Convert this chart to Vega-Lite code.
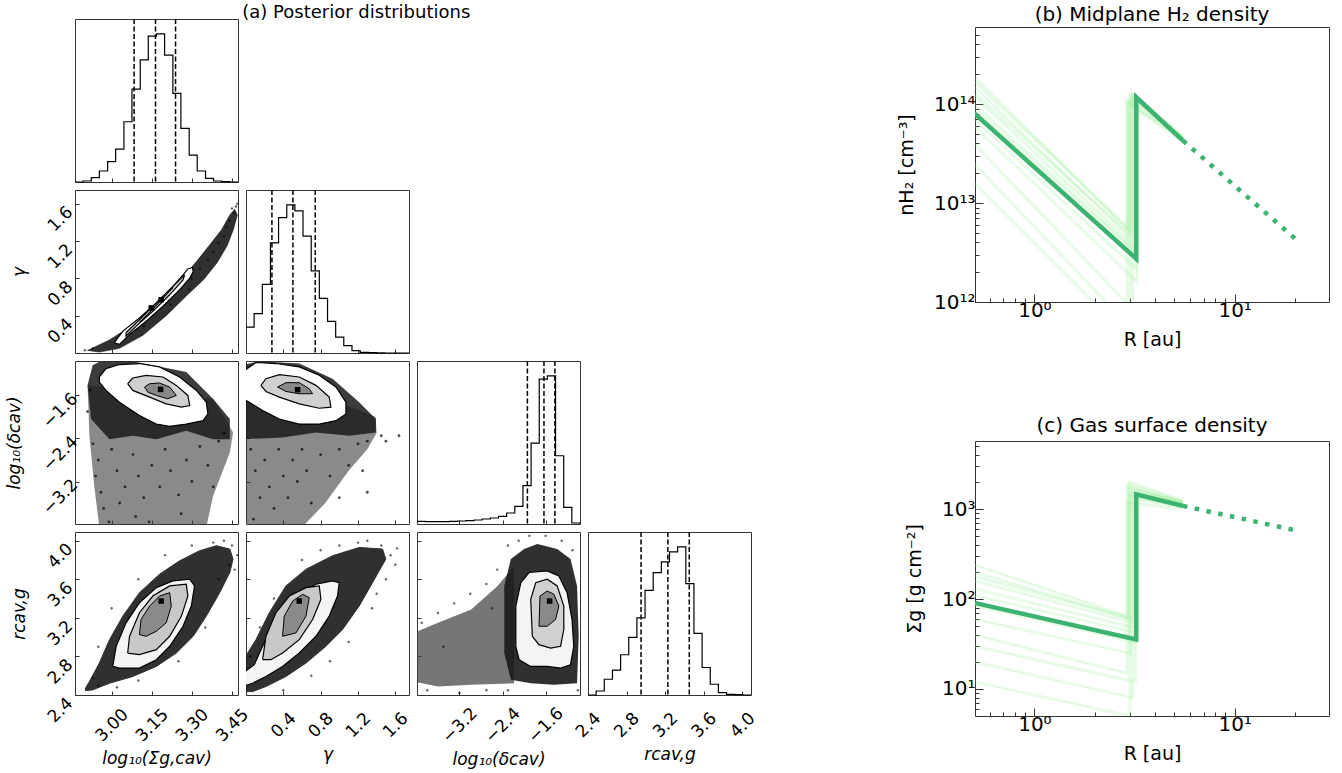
{
"$schema":"https://vega.github.io/schema/vega-lite/v6.json",
"background":"white",
"padding":{"left":4,"top":4,"right":5,"bottom":5},
"config":{"font":"DejaVu Sans","view":{"stroke":"#333","strokeWidth":1},"title":{"font":"DejaVu Sans","fontWeight":"normal","color":"#000"},"axis":{"domain":false,"grid":false,"labelFont":"DejaVu Sans","titleFont":"DejaVu Sans","labelColor":"#000","titleColor":"#000","tickColor":"#333","titleFontWeight":"normal","labelOverlap":false,"labelFlush":false}},
"datasets":{
"hist":[
{"p":1,"x":2.863,"c":0},{"p":1,"x":2.893,"c":3},{"p":1,"x":2.924,"c":13},{"p":1,"x":2.954,"c":33},{"p":1,"x":2.985,"c":61},{"p":1,"x":3.015,"c":99},{"p":1,"x":3.046,"c":181},{"p":1,"x":3.076,"c":279},{"p":1,"x":3.107,"c":367},{"p":1,"x":3.137,"c":438},{"p":1,"x":3.168,"c":445},{"p":1,"x":3.198,"c":381},{"p":1,"x":3.229,"c":266},{"p":1,"x":3.259,"c":161},{"p":1,"x":3.290,"c":81},{"p":1,"x":3.320,"c":33},{"p":1,"x":3.351,"c":11},{"p":1,"x":3.381,"c":3},{"p":1,"x":3.412,"c":1},{"p":1,"x":3.442,"c":0},{"p":1,"x":3.4725,"c":0},
{"p":2,"x":0,"c":77},{"p":2,"x":0.087,"c":117},{"p":2,"x":0.175,"c":204},{"p":2,"x":0.262,"c":327},{"p":2,"x":0.349,"c":402},{"p":2,"x":0.437,"c":440},{"p":2,"x":0.524,"c":422},{"p":2,"x":0.611,"c":347},{"p":2,"x":0.699,"c":244},{"p":2,"x":0.786,"c":162},{"p":2,"x":0.874,"c":94},{"p":2,"x":0.961,"c":47},{"p":2,"x":1.048,"c":22},{"p":2,"x":1.136,"c":7},{"p":2,"x":1.223,"c":2},{"p":2,"x":1.310,"c":1},{"p":2,"x":1.398,"c":0.5},{"p":2,"x":1.485,"c":0},{"p":2,"x":1.572,"c":0},{"p":2,"x":1.660,"c":0},{"p":2,"x":1.747,"c":0},
{"p":3,"x":-3.99,"c":8},{"p":3,"x":-3.8385,"c":7},{"p":3,"x":-3.687,"c":7},{"p":3,"x":-3.5355,"c":7},{"p":3,"x":-3.384,"c":8},{"p":3,"x":-3.2325,"c":9},{"p":3,"x":-3.081,"c":10},{"p":3,"x":-2.9295,"c":12},{"p":3,"x":-2.778,"c":15},{"p":3,"x":-2.6265,"c":18},{"p":3,"x":-2.475,"c":23},{"p":3,"x":-2.3235,"c":33},{"p":3,"x":-2.172,"c":53},{"p":3,"x":-2.0205,"c":115},{"p":3,"x":-1.869,"c":243},{"p":3,"x":-1.7175,"c":435},{"p":3,"x":-1.566,"c":445},{"p":3,"x":-1.4145,"c":205},{"p":3,"x":-1.263,"c":50},{"p":3,"x":-1.1115,"c":3},{"p":3,"x":-0.96,"c":0},
{"p":4,"x":2.4,"c":0},{"p":4,"x":2.4845,"c":12},{"p":4,"x":2.569,"c":47},{"p":4,"x":2.6535,"c":74},{"p":4,"x":2.738,"c":120},{"p":4,"x":2.8225,"c":172},{"p":4,"x":2.907,"c":230},{"p":4,"x":2.9915,"c":312},{"p":4,"x":3.076,"c":365},{"p":4,"x":3.1605,"c":397},{"p":4,"x":3.245,"c":427},{"p":4,"x":3.3295,"c":442},{"p":4,"x":3.414,"c":332},{"p":4,"x":3.4985,"c":184},{"p":4,"x":3.583,"c":82},{"p":4,"x":3.6675,"c":32},{"p":4,"x":3.752,"c":7},{"p":4,"x":3.8365,"c":2},{"p":4,"x":3.921,"c":1},{"p":4,"x":4.0055,"c":0},{"p":4,"x":4.09,"c":0}
],
"q":[
{"p":1,"x":3.084},{"p":1,"x":3.164},{"p":1,"x":3.239},
{"p":2,"x":0.278},{"p":2,"x":0.503},{"p":2,"x":0.742},
{"p":3,"x":-1.938},{"p":3,"x":-1.630},{"p":3,"x":-1.427},
{"p":4,"x":2.95},{"p":4,"x":3.228},{"p":4,"x":3.45}
],
"poly":[
{"p":"21","k":"cl","i":0,"x":2.910,"y":0.028},{"p":"21","k":"cl","i":1,"x":2.992,"y":0.14},{"p":"21","k":"cl","i":2,"x":3.079,"y":0.30},{"p":"21","k":"cl","i":3,"x":3.167,"y":0.50},{"p":"21","k":"cl","i":4,"x":3.254,"y":0.76},{"p":"21","k":"cl","i":5,"x":3.317,"y":0.98},{"p":"21","k":"cl","i":6,"x":3.367,"y":1.16},{"p":"21","k":"cl","i":7,"x":3.411,"y":1.32},{"p":"21","k":"cl","i":8,"x":3.442,"y":1.48},{"p":"21","k":"cl","i":9,"x":3.460,"y":1.54},{"p":"21","k":"cl","i":10,"x":3.470,"y":1.48},{"p":"21","k":"cl","i":11,"x":3.456,"y":1.33},{"p":"21","k":"cl","i":12,"x":3.432,"y":1.15},{"p":"21","k":"cl","i":13,"x":3.395,"y":0.97},{"p":"21","k":"cl","i":14,"x":3.345,"y":0.79},{"p":"21","k":"cl","i":15,"x":3.279,"y":0.61},{"p":"21","k":"cl","i":16,"x":3.204,"y":0.40},{"p":"21","k":"cl","i":17,"x":3.117,"y":0.19},{"p":"21","k":"cl","i":18,"x":3.029,"y":0.05},{"p":"21","k":"cl","i":19,"x":2.954,"y":0.01},{"p":"21","k":"cl","i":20,"x":2.910,"y":0.028},
{"p":"21","k":"c1","i":0,"x":3.010,"y":0.110},{"p":"21","k":"c1","i":1,"x":3.042,"y":0.235},{"p":"21","k":"c1","i":2,"x":3.104,"y":0.376},{"p":"21","k":"c1","i":3,"x":3.167,"y":0.536},{"p":"21","k":"c1","i":4,"x":3.229,"y":0.714},{"p":"21","k":"c1","i":5,"x":3.267,"y":0.837},{"p":"21","k":"c1","i":6,"x":3.285,"y":0.901},{"p":"21","k":"c1","i":7,"x":3.302,"y":0.916},{"p":"21","k":"c1","i":8,"x":3.305,"y":0.873},{"p":"21","k":"c1","i":9,"x":3.292,"y":0.802},{"p":"21","k":"c1","i":10,"x":3.254,"y":0.677},{"p":"21","k":"c1","i":11,"x":3.192,"y":0.501},{"p":"21","k":"c1","i":12,"x":3.129,"y":0.341},{"p":"21","k":"c1","i":13,"x":3.067,"y":0.199},{"p":"21","k":"c1","i":14,"x":3.029,"y":0.092},{"p":"21","k":"c1","i":15,"x":3.010,"y":0.110},
{"p":"21","k":"c2","i":0,"x":3.054,"y":0.217},{"p":"21","k":"c2","i":1,"x":3.117,"y":0.394},{"p":"21","k":"c2","i":2,"x":3.179,"y":0.571},{"p":"21","k":"c2","i":3,"x":3.242,"y":0.749},{"p":"21","k":"c2","i":4,"x":3.273,"y":0.837},{"p":"21","k":"c2","i":5,"x":3.267,"y":0.784},{"p":"21","k":"c2","i":6,"x":3.217,"y":0.624},{"p":"21","k":"c2","i":7,"x":3.154,"y":0.448},{"p":"21","k":"c2","i":8,"x":3.092,"y":0.288},{"p":"21","k":"c2","i":9,"x":3.054,"y":0.182},{"p":"21","k":"c2","i":10,"x":3.054,"y":0.217},
{"p":"21","k":"c3","i":0,"x":3.117,"y":0.36},{"p":"21","k":"c3","i":1,"x":3.179,"y":0.55},{"p":"21","k":"c3","i":2,"x":3.229,"y":0.70},{"p":"21","k":"c3","i":3,"x":3.21,"y":0.64},{"p":"21","k":"c3","i":4,"x":3.154,"y":0.47},{"p":"21","k":"c3","i":5,"x":3.104,"y":0.33},{"p":"21","k":"c3","i":6,"x":3.117,"y":0.36},
{"p":"31","k":"sp","i":0,"x":2.910,"y":-1.413},{"p":"31","k":"sp","i":1,"x":2.917,"y":-2.350},{"p":"31","k":"sp","i":2,"x":2.935,"y":-3.288},{"p":"31","k":"sp","i":3,"x":2.954,"y":-4.05},{"p":"31","k":"sp","i":4,"x":3.354,"y":-4.05},{"p":"31","k":"sp","i":5,"x":3.379,"y":-3.475},{"p":"31","k":"sp","i":6,"x":3.442,"y":-2.663},{"p":"31","k":"sp","i":7,"x":3.454,"y":-2.288},{"p":"31","k":"sp","i":8,"x":3.379,"y":-1.663},{"p":"31","k":"sp","i":9,"x":2.910,"y":-1.413},
{"p":"31","k":"cl","i":0,"x":2.910,"y":-1.413},{"p":"31","k":"cl","i":1,"x":2.929,"y":-1.038},{"p":"31","k":"cl","i":2,"x":2.954,"y":-0.976},{"p":"31","k":"cl","i":3,"x":3.079,"y":-0.963},{"p":"31","k":"cl","i":4,"x":3.279,"y":-1.163},{"p":"31","k":"cl","i":5,"x":3.379,"y":-1.663},{"p":"31","k":"cl","i":6,"x":3.442,"y":-2.038},{"p":"31","k":"cl","i":7,"x":3.442,"y":-2.413},{"p":"31","k":"cl","i":8,"x":3.379,"y":-2.413},{"p":"31","k":"cl","i":9,"x":3.279,"y":-2.256},{"p":"31","k":"cl","i":10,"x":3.167,"y":-2.413},{"p":"31","k":"cl","i":11,"x":3.079,"y":-2.350},{"p":"31","k":"cl","i":12,"x":2.992,"y":-2.413},{"p":"31","k":"cl","i":13,"x":2.923,"y":-2.038},{"p":"31","k":"cl","i":14,"x":2.910,"y":-1.413},
{"p":"31","k":"c1","i":0,"x":2.954,"y":-1.257},{"p":"31","k":"c1","i":1,"x":2.979,"y":-1.101},{"p":"31","k":"c1","i":2,"x":3.029,"y":-1.026},{"p":"31","k":"c1","i":3,"x":3.104,"y":-1.007},{"p":"31","k":"c1","i":4,"x":3.179,"y":-1.070},{"p":"31","k":"c1","i":5,"x":3.254,"y":-1.257},{"p":"31","k":"c1","i":6,"x":3.317,"y":-1.507},{"p":"31","k":"c1","i":7,"x":3.354,"y":-1.725},{"p":"31","k":"c1","i":8,"x":3.360,"y":-1.944},{"p":"31","k":"c1","i":9,"x":3.342,"y":-2.069},{"p":"31","k":"c1","i":10,"x":3.279,"y":-2.132},{"p":"31","k":"c1","i":11,"x":3.217,"y":-2.175},{"p":"31","k":"c1","i":12,"x":3.167,"y":-2.132},{"p":"31","k":"c1","i":13,"x":3.104,"y":-1.975},{"p":"31","k":"c1","i":14,"x":3.029,"y":-1.725},{"p":"31","k":"c1","i":15,"x":2.979,"y":-1.507},{"p":"31","k":"c1","i":16,"x":2.954,"y":-1.351},{"p":"31","k":"c1","i":17,"x":2.954,"y":-1.257},
{"p":"31","k":"c2","i":0,"x":3.060,"y":-1.382},{"p":"31","k":"c2","i":1,"x":3.079,"y":-1.276},{"p":"31","k":"c2","i":2,"x":3.129,"y":-1.226},{"p":"31","k":"c2","i":3,"x":3.192,"y":-1.257},{"p":"31","k":"c2","i":4,"x":3.242,"y":-1.413},{"p":"31","k":"c2","i":5,"x":3.285,"y":-1.600},{"p":"31","k":"c2","i":6,"x":3.292,"y":-1.788},{"p":"31","k":"c2","i":7,"x":3.261,"y":-1.819},{"p":"31","k":"c2","i":8,"x":3.204,"y":-1.757},{"p":"31","k":"c2","i":9,"x":3.142,"y":-1.632},{"p":"31","k":"c2","i":10,"x":3.079,"y":-1.507},{"p":"31","k":"c2","i":11,"x":3.060,"y":-1.382},
{"p":"31","k":"c3","i":0,"x":3.123,"y":-1.444},{"p":"31","k":"c3","i":1,"x":3.142,"y":-1.382},{"p":"31","k":"c3","i":2,"x":3.179,"y":-1.369},{"p":"31","k":"c3","i":3,"x":3.217,"y":-1.444},{"p":"31","k":"c3","i":4,"x":3.242,"y":-1.600},{"p":"31","k":"c3","i":5,"x":3.210,"y":-1.663},{"p":"31","k":"c3","i":6,"x":3.167,"y":-1.600},{"p":"31","k":"c3","i":7,"x":3.135,"y":-1.538},{"p":"31","k":"c3","i":8,"x":3.123,"y":-1.444},
{"p":"32","k":"sp","i":0,"x":-0.05,"y":-1.0},{"p":"32","k":"sp","i":1,"x":-0.05,"y":-4.05},{"p":"32","k":"sp","i":2,"x":0.60,"y":-4.05},{"p":"32","k":"sp","i":3,"x":0.85,"y":-3.6},{"p":"32","k":"sp","i":4,"x":1.10,"y":-3.0},{"p":"32","k":"sp","i":5,"x":1.30,"y":-2.6},{"p":"32","k":"sp","i":6,"x":1.40,"y":-2.3},{"p":"32","k":"sp","i":7,"x":1.39,"y":-2.0},{"p":"32","k":"sp","i":8,"x":-0.05,"y":-1.0},
{"p":"32","k":"cl","i":0,"x":-0.05,"y":-1.038},{"p":"32","k":"cl","i":1,"x":0.142,"y":-0.963},{"p":"32","k":"cl","i":2,"x":0.571,"y":-1.007},{"p":"32","k":"cl","i":3,"x":0.928,"y":-1.288},{"p":"32","k":"cl","i":4,"x":1.213,"y":-1.725},{"p":"32","k":"cl","i":5,"x":1.392,"y":-2.038},{"p":"32","k":"cl","i":6,"x":1.392,"y":-2.288},{"p":"32","k":"cl","i":7,"x":1.107,"y":-2.350},{"p":"32","k":"cl","i":8,"x":0.750,"y":-2.288},{"p":"32","k":"cl","i":9,"x":0.392,"y":-2.381},{"p":"32","k":"cl","i":10,"x":-0.05,"y":-2.413},{"p":"32","k":"cl","i":11,"x":-0.05,"y":-1.038},
{"p":"32","k":"c1","i":0,"x":-0.036,"y":-1.163},{"p":"32","k":"c1","i":1,"x":0.107,"y":-0.988},{"p":"32","k":"c1","i":2,"x":0.321,"y":-1.007},{"p":"32","k":"c1","i":3,"x":0.571,"y":-1.070},{"p":"32","k":"c1","i":4,"x":0.785,"y":-1.226},{"p":"32","k":"c1","i":5,"x":0.964,"y":-1.444},{"p":"32","k":"c1","i":6,"x":1.071,"y":-1.725},{"p":"32","k":"c1","i":7,"x":1.071,"y":-1.944},{"p":"32","k":"c1","i":8,"x":0.964,"y":-2.069},{"p":"32","k":"c1","i":9,"x":0.785,"y":-2.132},{"p":"32","k":"c1","i":10,"x":0.571,"y":-2.132},{"p":"32","k":"c1","i":11,"x":0.357,"y":-2.038},{"p":"32","k":"c1","i":12,"x":0.178,"y":-1.882},{"p":"32","k":"c1","i":13,"x":0.035,"y":-1.725},{"p":"32","k":"c1","i":14,"x":-0.036,"y":-1.663},{"p":"32","k":"c1","i":15,"x":-0.036,"y":-1.163},
{"p":"32","k":"c2","i":0,"x":0.160,"y":-1.413},{"p":"32","k":"c2","i":1,"x":0.214,"y":-1.288},{"p":"32","k":"c2","i":2,"x":0.357,"y":-1.213},{"p":"32","k":"c2","i":3,"x":0.571,"y":-1.257},{"p":"32","k":"c2","i":4,"x":0.750,"y":-1.413},{"p":"32","k":"c2","i":5,"x":0.892,"y":-1.632},{"p":"32","k":"c2","i":6,"x":0.910,"y":-1.819},{"p":"32","k":"c2","i":7,"x":0.785,"y":-1.838},{"p":"32","k":"c2","i":8,"x":0.571,"y":-1.757},{"p":"32","k":"c2","i":9,"x":0.357,"y":-1.632},{"p":"32","k":"c2","i":10,"x":0.214,"y":-1.526},{"p":"32","k":"c2","i":11,"x":0.160,"y":-1.413},
{"p":"32","k":"c3","i":0,"x":0.338,"y":-1.444},{"p":"32","k":"c3","i":1,"x":0.428,"y":-1.363},{"p":"32","k":"c3","i":2,"x":0.571,"y":-1.363},{"p":"32","k":"c3","i":3,"x":0.678,"y":-1.476},{"p":"32","k":"c3","i":4,"x":0.714,"y":-1.569},{"p":"32","k":"c3","i":5,"x":0.571,"y":-1.569},{"p":"32","k":"c3","i":6,"x":0.428,"y":-1.526},{"p":"32","k":"c3","i":7,"x":0.338,"y":-1.444},
{"p":"41","k":"cl","i":0,"x":2.902,"y":2.470},{"p":"41","k":"cl","i":1,"x":2.917,"y":2.540},{"p":"41","k":"cl","i":2,"x":2.954,"y":2.731},{"p":"41","k":"cl","i":3,"x":2.992,"y":2.974},{"p":"41","k":"cl","i":4,"x":3.042,"y":3.218},{"p":"41","k":"cl","i":5,"x":3.104,"y":3.461},{"p":"41","k":"cl","i":6,"x":3.179,"y":3.652},{"p":"41","k":"cl","i":7,"x":3.254,"y":3.791},{"p":"41","k":"cl","i":8,"x":3.329,"y":3.896},{"p":"41","k":"cl","i":9,"x":3.392,"y":3.948},{"p":"41","k":"cl","i":10,"x":3.442,"y":3.913},{"p":"41","k":"cl","i":11,"x":3.454,"y":3.809},{"p":"41","k":"cl","i":12,"x":3.442,"y":3.670},{"p":"41","k":"cl","i":13,"x":3.404,"y":3.461},{"p":"41","k":"cl","i":14,"x":3.354,"y":3.218},{"p":"41","k":"cl","i":15,"x":3.305,"y":3.009},{"p":"41","k":"cl","i":16,"x":3.242,"y":2.835},{"p":"41","k":"cl","i":17,"x":3.167,"y":2.696},{"p":"41","k":"cl","i":18,"x":3.079,"y":2.592},{"p":"41","k":"cl","i":19,"x":2.992,"y":2.522},{"p":"41","k":"cl","i":20,"x":2.929,"y":2.453},{"p":"41","k":"cl","i":21,"x":2.902,"y":2.446},{"p":"41","k":"cl","i":22,"x":2.902,"y":2.470},
{"p":"41","k":"c1","i":0,"x":3.004,"y":2.696},{"p":"41","k":"c1","i":1,"x":3.017,"y":2.905},{"p":"41","k":"c1","i":2,"x":3.054,"y":3.148},{"p":"41","k":"c1","i":3,"x":3.104,"y":3.357},{"p":"41","k":"c1","i":4,"x":3.167,"y":3.513},{"p":"41","k":"c1","i":5,"x":3.229,"y":3.583},{"p":"41","k":"c1","i":6,"x":3.292,"y":3.600},{"p":"41","k":"c1","i":7,"x":3.310,"y":3.531},{"p":"41","k":"c1","i":8,"x":3.298,"y":3.322},{"p":"41","k":"c1","i":9,"x":3.267,"y":3.113},{"p":"41","k":"c1","i":10,"x":3.217,"y":2.905},{"p":"41","k":"c1","i":11,"x":3.167,"y":2.766},{"p":"41","k":"c1","i":12,"x":3.104,"y":2.679},{"p":"41","k":"c1","i":13,"x":3.029,"y":2.679},{"p":"41","k":"c1","i":14,"x":3.004,"y":2.696},
{"p":"41","k":"c2","i":0,"x":3.060,"y":2.835},{"p":"41","k":"c2","i":1,"x":3.067,"y":3.009},{"p":"41","k":"c2","i":2,"x":3.104,"y":3.253},{"p":"41","k":"c2","i":3,"x":3.154,"y":3.426},{"p":"41","k":"c2","i":4,"x":3.217,"y":3.531},{"p":"41","k":"c2","i":5,"x":3.279,"y":3.548},{"p":"41","k":"c2","i":6,"x":3.285,"y":3.426},{"p":"41","k":"c2","i":7,"x":3.261,"y":3.218},{"p":"41","k":"c2","i":8,"x":3.217,"y":3.009},{"p":"41","k":"c2","i":9,"x":3.167,"y":2.870},{"p":"41","k":"c2","i":10,"x":3.104,"y":2.818},{"p":"41","k":"c2","i":11,"x":3.060,"y":2.835},
{"p":"41","k":"c3","i":0,"x":3.104,"y":3.026},{"p":"41","k":"c3","i":1,"x":3.110,"y":3.183},{"p":"41","k":"c3","i":2,"x":3.142,"y":3.322},{"p":"41","k":"c3","i":3,"x":3.179,"y":3.426},{"p":"41","k":"c3","i":4,"x":3.217,"y":3.461},{"p":"41","k":"c3","i":5,"x":3.223,"y":3.322},{"p":"41","k":"c3","i":6,"x":3.204,"y":3.148},{"p":"41","k":"c3","i":7,"x":3.167,"y":3.061},{"p":"41","k":"c3","i":8,"x":3.129,"y":3.009},{"p":"41","k":"c3","i":9,"x":3.104,"y":3.026},
{"p":"42","k":"cl","i":0,"x":-0.05,"y":2.435},{"p":"42","k":"cl","i":1,"x":-0.05,"y":2.731},{"p":"42","k":"cl","i":2,"x":0.107,"y":2.974},{"p":"42","k":"cl","i":3,"x":0.250,"y":3.253},{"p":"42","k":"cl","i":4,"x":0.428,"y":3.531},{"p":"42","k":"cl","i":5,"x":0.643,"y":3.704},{"p":"42","k":"cl","i":6,"x":0.928,"y":3.844},{"p":"42","k":"cl","i":7,"x":1.213,"y":3.930},{"p":"42","k":"cl","i":8,"x":1.463,"y":3.913},{"p":"42","k":"cl","i":9,"x":1.499,"y":3.809},{"p":"42","k":"cl","i":10,"x":1.356,"y":3.565},{"p":"42","k":"cl","i":11,"x":1.213,"y":3.322},{"p":"42","k":"cl","i":12,"x":1.035,"y":3.079},{"p":"42","k":"cl","i":13,"x":0.857,"y":2.905},{"p":"42","k":"cl","i":14,"x":0.643,"y":2.731},{"p":"42","k":"cl","i":15,"x":0.428,"y":2.592},{"p":"42","k":"cl","i":16,"x":0.214,"y":2.488},{"p":"42","k":"cl","i":17,"x":0.071,"y":2.435},{"p":"42","k":"cl","i":18,"x":-0.05,"y":2.435},
{"p":"42","k":"c1","i":0,"x":-0.036,"y":2.627},{"p":"42","k":"c1","i":1,"x":0.089,"y":2.714},{"p":"42","k":"c1","i":2,"x":0.178,"y":2.905},{"p":"42","k":"c1","i":3,"x":0.285,"y":3.113},{"p":"42","k":"c1","i":4,"x":0.428,"y":3.322},{"p":"42","k":"c1","i":5,"x":0.571,"y":3.461},{"p":"42","k":"c1","i":6,"x":0.750,"y":3.548},{"p":"42","k":"c1","i":7,"x":0.928,"y":3.583},{"p":"42","k":"c1","i":8,"x":0.999,"y":3.565},{"p":"42","k":"c1","i":9,"x":0.981,"y":3.426},{"p":"42","k":"c1","i":10,"x":0.892,"y":3.218},{"p":"42","k":"c1","i":11,"x":0.750,"y":3.009},{"p":"42","k":"c1","i":12,"x":0.571,"y":2.835},{"p":"42","k":"c1","i":13,"x":0.392,"y":2.696},{"p":"42","k":"c1","i":14,"x":0.214,"y":2.592},{"p":"42","k":"c1","i":15,"x":0.071,"y":2.522},{"p":"42","k":"c1","i":16,"x":-0.036,"y":2.488},{"p":"42","k":"c1","i":17,"x":-0.036,"y":2.627},
{"p":"42","k":"c2","i":0,"x":0.178,"y":2.766},{"p":"42","k":"c2","i":1,"x":0.214,"y":3.009},{"p":"42","k":"c2","i":2,"x":0.321,"y":3.253},{"p":"42","k":"c2","i":3,"x":0.464,"y":3.426},{"p":"42","k":"c2","i":4,"x":0.643,"y":3.513},{"p":"42","k":"c2","i":5,"x":0.785,"y":3.531},{"p":"42","k":"c2","i":6,"x":0.803,"y":3.392},{"p":"42","k":"c2","i":7,"x":0.714,"y":3.183},{"p":"42","k":"c2","i":8,"x":0.571,"y":2.974},{"p":"42","k":"c2","i":9,"x":0.392,"y":2.835},{"p":"42","k":"c2","i":10,"x":0.267,"y":2.766},{"p":"42","k":"c2","i":11,"x":0.178,"y":2.766},
{"p":"42","k":"c3","i":0,"x":0.392,"y":3.009},{"p":"42","k":"c3","i":1,"x":0.410,"y":3.218},{"p":"42","k":"c3","i":2,"x":0.500,"y":3.374},{"p":"42","k":"c3","i":3,"x":0.607,"y":3.444},{"p":"42","k":"c3","i":4,"x":0.678,"y":3.409},{"p":"42","k":"c3","i":5,"x":0.643,"y":3.218},{"p":"42","k":"c3","i":6,"x":0.536,"y":3.044},{"p":"42","k":"c3","i":7,"x":0.392,"y":3.009},
{"p":"43","k":"sp","i":0,"x":-4.05,"y":3.044},{"p":"43","k":"sp","i":1,"x":-3.600,"y":3.148},{"p":"43","k":"sp","i":2,"x":-2.983,"y":3.287},{"p":"43","k":"sp","i":3,"x":-2.492,"y":3.531},{"p":"43","k":"sp","i":4,"x":-2.184,"y":3.739},{"p":"43","k":"sp","i":5,"x":-2.184,"y":2.522},{"p":"43","k":"sp","i":6,"x":-2.983,"y":2.505},{"p":"43","k":"sp","i":7,"x":-3.600,"y":2.488},{"p":"43","k":"sp","i":8,"x":-4.05,"y":2.540},{"p":"43","k":"sp","i":9,"x":-4.05,"y":3.044},
{"p":"43","k":"cl","i":0,"x":-2.245,"y":3.809},{"p":"43","k":"cl","i":1,"x":-1.999,"y":3.913},{"p":"43","k":"cl","i":2,"x":-1.754,"y":3.965},{"p":"43","k":"cl","i":3,"x":-1.384,"y":3.913},{"p":"43","k":"cl","i":4,"x":-1.137,"y":3.809},{"p":"43","k":"cl","i":5,"x":-1.015,"y":3.531},{"p":"43","k":"cl","i":6,"x":-0.984,"y":3.009},{"p":"43","k":"cl","i":7,"x":-1.015,"y":2.522},{"p":"43","k":"cl","i":8,"x":-1.445,"y":2.505},{"p":"43","k":"cl","i":9,"x":-1.876,"y":2.522},{"p":"43","k":"cl","i":10,"x":-2.245,"y":2.557},{"p":"43","k":"cl","i":11,"x":-2.368,"y":2.835},{"p":"43","k":"cl","i":12,"x":-2.368,"y":3.531},{"p":"43","k":"cl","i":13,"x":-2.245,"y":3.809},
{"p":"43","k":"c1","i":0,"x":-2.153,"y":2.905},{"p":"43","k":"c1","i":1,"x":-2.153,"y":3.322},{"p":"43","k":"c1","i":2,"x":-2.060,"y":3.565},{"p":"43","k":"c1","i":3,"x":-1.907,"y":3.670},{"p":"43","k":"c1","i":4,"x":-1.569,"y":3.687},{"p":"43","k":"c1","i":5,"x":-1.353,"y":3.635},{"p":"43","k":"c1","i":6,"x":-1.200,"y":3.461},{"p":"43","k":"c1","i":7,"x":-1.108,"y":3.183},{"p":"43","k":"c1","i":8,"x":-1.076,"y":2.905},{"p":"43","k":"c1","i":9,"x":-1.137,"y":2.714},{"p":"43","k":"c1","i":10,"x":-1.322,"y":2.679},{"p":"43","k":"c1","i":11,"x":-1.569,"y":2.696},{"p":"43","k":"c1","i":12,"x":-1.876,"y":2.696},{"p":"43","k":"c1","i":13,"x":-2.092,"y":2.766},{"p":"43","k":"c1","i":14,"x":-2.153,"y":2.905},
{"p":"43","k":"c2","i":0,"x":-1.846,"y":3.009},{"p":"43","k":"c2","i":1,"x":-1.876,"y":3.392},{"p":"43","k":"c2","i":2,"x":-1.783,"y":3.565},{"p":"43","k":"c2","i":3,"x":-1.569,"y":3.600},{"p":"43","k":"c2","i":4,"x":-1.384,"y":3.531},{"p":"43","k":"c2","i":5,"x":-1.261,"y":3.322},{"p":"43","k":"c2","i":6,"x":-1.261,"y":3.079},{"p":"43","k":"c2","i":7,"x":-1.322,"y":2.905},{"p":"43","k":"c2","i":8,"x":-1.506,"y":2.887},{"p":"43","k":"c2","i":9,"x":-1.722,"y":2.922},{"p":"43","k":"c2","i":10,"x":-1.846,"y":3.009},
{"p":"43","k":"c3","i":0,"x":-1.722,"y":3.113},{"p":"43","k":"c3","i":1,"x":-1.704,"y":3.426},{"p":"43","k":"c3","i":2,"x":-1.569,"y":3.478},{"p":"43","k":"c3","i":3,"x":-1.445,"y":3.444},{"p":"43","k":"c3","i":4,"x":-1.353,"y":3.322},{"p":"43","k":"c3","i":5,"x":-1.414,"y":3.183},{"p":"43","k":"c3","i":6,"x":-1.569,"y":3.113},{"p":"43","k":"c3","i":7,"x":-1.722,"y":3.113}
],
"peak":[
{"p":"21","x":3.148,"y":0.483},{"p":"21","x":3.185,"y":0.571},{"p":"31","x":3.183,"y":-1.488},{"p":"32","x":0.553,"y":-1.494},{"p":"41","x":3.185,"y":3.374},{"p":"42","x":0.571,"y":3.374},{"p":"43","x":-1.525,"y":3.374}
],
"pts":[
{"p":"21","x":3.45,"y":1.55},{"p":"21","x":3.46,"y":1.50},{"p":"21","x":3.44,"y":1.42},{"p":"21","x":3.43,"y":1.35},{"p":"21","x":3.42,"y":1.25},{"p":"21","x":3.40,"y":1.18},{"p":"21","x":3.38,"y":1.08},{"p":"21","x":3.36,"y":1.00},{"p":"21","x":3.33,"y":0.90},{"p":"21","x":3.30,"y":0.80},{"p":"21","x":2.93,"y":0.05},{"p":"21","x":2.90,"y":0.03},{"p":"21","x":3.05,"y":0.16},{"p":"21","x":3.12,"y":0.29},{"p":"21","x":3.22,"y":0.52},{"p":"21","x":3.29,"y":0.68},{"p":"21","x":3.47,"y":1.60},{"p":"21","x":3.465,"y":1.57},
{"p":"31","x":2.93,"y":-2.5},{"p":"31","x":2.95,"y":-2.8},{"p":"31","x":2.94,"y":-3.1},{"p":"31","x":2.96,"y":-3.4},{"p":"31","x":2.97,"y":-3.7},{"p":"31","x":2.99,"y":-3.95},{"p":"31","x":3.00,"y":-2.6},{"p":"31","x":3.02,"y":-3.0},{"p":"31","x":3.05,"y":-3.3},{"p":"31","x":3.03,"y":-3.6},{"p":"31","x":3.08,"y":-2.7},{"p":"31","x":3.10,"y":-3.1},{"p":"31","x":3.12,"y":-3.5},{"p":"31","x":3.09,"y":-3.85},{"p":"31","x":3.15,"y":-2.9},{"p":"31","x":3.18,"y":-3.3},{"p":"31","x":3.20,"y":-2.6},{"p":"31","x":3.22,"y":-3.0},{"p":"31","x":3.25,"y":-3.45},{"p":"31","x":3.28,"y":-2.8},{"p":"31","x":3.30,"y":-3.2},{"p":"31","x":3.33,"y":-2.55},{"p":"31","x":3.36,"y":-2.9},{"p":"31","x":3.40,"y":-2.45},{"p":"31","x":3.42,"y":-2.3},{"p":"31","x":3.38,"y":-3.3},{"p":"31","x":3.14,"y":-3.95},{"p":"31","x":3.26,"y":-3.8},{"p":"31","x":2.92,"y":-1.5},{"p":"31","x":2.91,"y":-1.9},
{"p":"32","x":0.05,"y":-2.6},{"p":"32","x":0.1,"y":-3.0},{"p":"32","x":0.15,"y":-3.5},{"p":"32","x":0.08,"y":-3.9},{"p":"32","x":0.2,"y":-2.8},{"p":"32","x":0.25,"y":-3.3},{"p":"32","x":0.3,"y":-3.7},{"p":"32","x":0.35,"y":-2.6},{"p":"32","x":0.4,"y":-3.1},{"p":"32","x":0.45,"y":-3.5},{"p":"32","x":0.5,"y":-2.8},{"p":"32","x":0.55,"y":-3.2},{"p":"32","x":0.6,"y":-2.6},{"p":"32","x":0.65,"y":-3.0},{"p":"32","x":0.7,"y":-3.6},{"p":"32","x":0.8,"y":-2.7},{"p":"32","x":0.9,"y":-3.1},{"p":"32","x":1.0,"y":-2.6},{"p":"32","x":1.1,"y":-2.9},{"p":"32","x":1.2,"y":-2.5},{"p":"32","x":1.3,"y":-2.45},{"p":"32","x":1.45,"y":-2.35},{"p":"32","x":1.64,"y":-2.35},{"p":"32","x":1.3,"y":-3.4},{"p":"32","x":1.0,"y":-3.5},{"p":"32","x":1.5,"y":-2.45},{"p":"32","x":1.25,"y":-3.0},
{"p":"41","x":2.95,"y":2.5},{"p":"41","x":2.93,"y":2.58},{"p":"41","x":3.38,"y":3.98},{"p":"41","x":3.42,"y":4.0},{"p":"41","x":3.45,"y":3.95},{"p":"41","x":3.47,"y":3.85},{"p":"41","x":3.40,"y":3.6},{"p":"41","x":3.3,"y":3.95},{"p":"41","x":3.2,"y":3.85},{"p":"41","x":3.1,"y":3.6},{"p":"41","x":3.0,"y":3.3},{"p":"41","x":2.95,"y":2.9},{"p":"41","x":3.35,"y":3.1},{"p":"41","x":3.25,"y":2.75},{"p":"41","x":3.1,"y":2.55},{"p":"41","x":3.02,"y":2.48},{"p":"41","x":3.44,"y":3.75},{"p":"41","x":3.46,"y":3.7},
{"p":"42","x":1.2,"y":3.98},{"p":"42","x":1.3,"y":4.0},{"p":"42","x":1.45,"y":3.95},{"p":"42","x":1.55,"y":3.85},{"p":"42","x":1.6,"y":3.75},{"p":"42","x":1.5,"y":3.6},{"p":"42","x":1.4,"y":3.45},{"p":"42","x":1.0,"y":3.95},{"p":"42","x":0.8,"y":3.9},{"p":"42","x":0.6,"y":3.8},{"p":"42","x":0.3,"y":3.4},{"p":"42","x":0.15,"y":3.1},{"p":"42","x":0.05,"y":2.8},{"p":"42","x":1.1,"y":2.95},{"p":"42","x":0.9,"y":2.75},{"p":"42","x":0.7,"y":2.6},{"p":"42","x":0.4,"y":2.45},{"p":"42","x":1.35,"y":3.3},{"p":"42","x":1.62,"y":3.92},
{"p":"43","x":-2.3,"y":3.95},{"p":"43","x":-2.1,"y":4.0},{"p":"43","x":-1.9,"y":4.05},{"p":"43","x":-1.6,"y":4.05},{"p":"43","x":-1.3,"y":4.0},{"p":"43","x":-1.1,"y":3.9},{"p":"43","x":-2.5,"y":3.7},{"p":"43","x":-2.7,"y":3.55},{"p":"43","x":-3.0,"y":3.45},{"p":"43","x":-3.3,"y":3.35},{"p":"43","x":-3.6,"y":3.25},{"p":"43","x":-3.9,"y":3.15},{"p":"43","x":-3.8,"y":2.45},{"p":"43","x":-3.2,"y":2.42},{"p":"43","x":-2.7,"y":2.45},{"p":"43","x":-2.3,"y":2.45},{"p":"43","x":-1.0,"y":2.45},{"p":"43","x":-2.6,"y":3.3},{"p":"43","x":-3.5,"y":2.9}
],
"rl":[
{"g":"b","s":"m","i":0,"x":0.5,"y":8.1e13},{"g":"b","s":"m","i":1,"x":3.225,"y":2.74e12},{"g":"b","s":"m","i":2,"x":3.225,"y":1.17e14},{"g":"b","s":"m","i":3,"x":5.52,"y":4.27e13},
{"g":"b","s":"d","i":0,"x":5.52,"y":4.27e13},{"g":"b","s":"d","i":1,"x":20,"y":4.39e12},
{"g":"b","s":"s1","i":0,"x":0.5,"y":1.9e14},{"g":"b","s":"s1","i":1,"x":2.9,"y":5.5e12},{"g":"b","s":"s1","i":2,"x":2.9,"y":1.1e14},{"g":"b","s":"s1","i":3,"x":5.5,"y":4.5e13},
{"g":"b","s":"s2","i":0,"x":0.5,"y":1.5e14},{"g":"b","s":"s2","i":1,"x":3.0,"y":4.5e12},{"g":"b","s":"s2","i":2,"x":3.0,"y":1.2e14},{"g":"b","s":"s2","i":3,"x":5.5,"y":4.6e13},
{"g":"b","s":"s3","i":0,"x":0.5,"y":1.2e14},{"g":"b","s":"s3","i":1,"x":3.1,"y":3.8e12},{"g":"b","s":"s3","i":2,"x":3.1,"y":1.25e14},{"g":"b","s":"s3","i":3,"x":5.5,"y":4.4e13},
{"g":"b","s":"s4","i":0,"x":0.5,"y":1.0e14},{"g":"b","s":"s4","i":1,"x":3.2,"y":3.3e12},{"g":"b","s":"s4","i":2,"x":3.2,"y":1.15e14},{"g":"b","s":"s4","i":3,"x":5.5,"y":4.3e13},
{"g":"b","s":"s5","i":0,"x":0.5,"y":9e13},{"g":"b","s":"s5","i":1,"x":3.3,"y":3.0e12},{"g":"b","s":"s5","i":2,"x":3.3,"y":1.1e14},{"g":"b","s":"s5","i":3,"x":5.5,"y":4.6e13},
{"g":"b","s":"s6","i":0,"x":0.5,"y":7e13},{"g":"b","s":"s6","i":1,"x":3.2,"y":2.2e12},{"g":"b","s":"s6","i":2,"x":3.2,"y":1.2e14},{"g":"b","s":"s6","i":3,"x":5.5,"y":4.2e13},
{"g":"b","s":"s7","i":0,"x":0.5,"y":6e13},{"g":"b","s":"s7","i":1,"x":3.25,"y":1.6e12},{"g":"b","s":"s7","i":2,"x":3.25,"y":1.1e14},{"g":"b","s":"s7","i":3,"x":5.5,"y":4.4e13},
{"g":"b","s":"s8","i":0,"x":0.5,"y":4e13},{"g":"b","s":"s8","i":1,"x":3.0,"y":0.9e12},{"g":"b","s":"s8","i":2,"x":3.0,"y":1.15e14},{"g":"b","s":"s8","i":3,"x":5.5,"y":4.5e13},
{"g":"b","s":"s9","i":0,"x":0.5,"y":2.5e13},{"g":"b","s":"s9","i":1,"x":2.9,"y":0.6e12},{"g":"b","s":"s9","i":2,"x":2.9,"y":1.05e14},{"g":"b","s":"s9","i":3,"x":5.5,"y":4.4e13},
{"g":"b","s":"s10","i":0,"x":0.5,"y":1.6e13},{"g":"b","s":"s10","i":1,"x":3.1,"y":0.4e12},{"g":"b","s":"s10","i":2,"x":3.1,"y":1.2e14},{"g":"b","s":"s10","i":3,"x":5.5,"y":4.5e13},
{"g":"b","s":"s11","i":0,"x":0.5,"y":1.3e14},{"g":"b","s":"s11","i":1,"x":2.95,"y":5e12},{"g":"b","s":"s11","i":2,"x":2.95,"y":1.0e14},{"g":"b","s":"s11","i":3,"x":5.5,"y":4.2e13},
{"g":"b","s":"s12","i":0,"x":0.5,"y":1.7e14},{"g":"b","s":"s12","i":1,"x":3.05,"y":5.2e12},{"g":"b","s":"s12","i":2,"x":3.05,"y":1.3e14},{"g":"b","s":"s12","i":3,"x":5.5,"y":4.8e13},
{"g":"c","s":"m","i":0,"x":0.5,"y":91},{"g":"c","s":"m","i":1,"x":3.225,"y":35.6},{"g":"c","s":"m","i":2,"x":3.225,"y":1468},{"g":"c","s":"m","i":3,"x":5.52,"y":1090},
{"g":"c","s":"d","i":0,"x":5.52,"y":1090},{"g":"c","s":"d","i":1,"x":20,"y":585},
{"g":"c","s":"s1","i":0,"x":0.5,"y":240},{"g":"c","s":"s1","i":1,"x":2.9,"y":65},{"g":"c","s":"s1","i":2,"x":2.9,"y":1800},{"g":"c","s":"s1","i":3,"x":5.5,"y":1200},
{"g":"c","s":"s2","i":0,"x":0.5,"y":200},{"g":"c","s":"s2","i":1,"x":3.0,"y":60},{"g":"c","s":"s2","i":2,"x":3.0,"y":2000},{"g":"c","s":"s2","i":3,"x":5.5,"y":1250},
{"g":"c","s":"s3","i":0,"x":0.5,"y":160},{"g":"c","s":"s3","i":1,"x":3.1,"y":55},{"g":"c","s":"s3","i":2,"x":3.1,"y":1700},{"g":"c","s":"s3","i":3,"x":5.5,"y":1150},
{"g":"c","s":"s4","i":0,"x":0.5,"y":130},{"g":"c","s":"s4","i":1,"x":3.2,"y":48},{"g":"c","s":"s4","i":2,"x":3.2,"y":1500},{"g":"c","s":"s4","i":3,"x":5.5,"y":1100},
{"g":"c","s":"s5","i":0,"x":0.5,"y":110},{"g":"c","s":"s5","i":1,"x":3.3,"y":42},{"g":"c","s":"s5","i":2,"x":3.3,"y":1600},{"g":"c","s":"s5","i":3,"x":5.5,"y":1180},
{"g":"c","s":"s6","i":0,"x":0.5,"y":85},{"g":"c","s":"s6","i":1,"x":3.2,"y":33},{"g":"c","s":"s6","i":2,"x":3.2,"y":1300},{"g":"c","s":"s6","i":3,"x":5.5,"y":1050},
{"g":"c","s":"s7","i":0,"x":0.5,"y":60},{"g":"c","s":"s7","i":1,"x":3.0,"y":25},{"g":"c","s":"s7","i":2,"x":3.0,"y":1400},{"g":"c","s":"s7","i":3,"x":5.5,"y":1100},
{"g":"c","s":"s8","i":0,"x":0.5,"y":40},{"g":"c","s":"s8","i":1,"x":2.9,"y":15},{"g":"c","s":"s8","i":2,"x":2.9,"y":1200},{"g":"c","s":"s8","i":3,"x":5.5,"y":1000},
{"g":"c","s":"s9","i":0,"x":0.5,"y":20},{"g":"c","s":"s9","i":1,"x":3.1,"y":8},{"g":"c","s":"s9","i":2,"x":3.1,"y":1500},{"g":"c","s":"s9","i":3,"x":5.5,"y":1150},
{"g":"c","s":"s10","i":0,"x":0.5,"y":12},{"g":"c","s":"s10","i":1,"x":3.0,"y":5},{"g":"c","s":"s10","i":2,"x":3.0,"y":1600},{"g":"c","s":"s10","i":3,"x":5.5,"y":1200},
{"g":"c","s":"s11","i":0,"x":0.5,"y":180},{"g":"c","s":"s11","i":1,"x":2.95,"y":62},{"g":"c","s":"s11","i":2,"x":2.95,"y":1900},{"g":"c","s":"s11","i":3,"x":5.5,"y":1230},
{"g":"c","s":"s12","i":0,"x":0.5,"y":30},{"g":"c","s":"s12","i":1,"x":3.2,"y":12},{"g":"c","s":"s12","i":2,"x":3.2,"y":1350},{"g":"c","s":"s12","i":3,"x":5.5,"y":1080}
]
},
"spacing":138,
"hconcat":[
{"title":{"text":"(a) Posterior distributions","fontSize":18,"anchor":"middle","dx":-25,"offset":-4.5},
 "columns":4,"spacing":8,"bounds":"flush",
 "concat":[
  {"width":163,"height":163,"layer":[
    {"data":{"name":"hist"},"transform":[{"filter":"datum.p==1"}],"mark":{"type":"line","interpolate":"step-after","color":"#000","strokeWidth":1.2},
     "encoding":{"x":{"field":"x","type":"quantitative","scale":{"domain":[2.863,3.4725],"nice":false,"zero":false},"axis":{"values":[3.0,3.15,3.3,3.45],"labels":false,"tickSize":-4,"title":null}},
                 "y":{"field":"c","type":"quantitative","scale":{"domain":[0,489.5],"nice":false},"axis":null}}},
    {"data":{"name":"q"},"transform":[{"filter":"datum.p==1"}],"mark":{"type":"rule","color":"#000","strokeWidth":1.5,"strokeDash":[5,2.5]},"encoding":{"x":{"field":"x","type":"quantitative"}}}]},
  {"width":163,"height":163,"data":{"values":[{"a":1}]},"mark":{"type":"point","opacity":0},"view":{"stroke":null}},
  {"width":163,"height":163,"data":{"values":[{"a":1}]},"mark":{"type":"point","opacity":0},"view":{"stroke":null}},
  {"width":163,"height":163,"data":{"values":[{"a":1}]},"mark":{"type":"point","opacity":0},"view":{"stroke":null}},

  {"width":163,"height":163,
   "encoding":{"x":{"field":"x","type":"quantitative","scale":{"domain":[2.863,3.4725],"nice":false,"zero":false},"axis":{"values":[3.0,3.15,3.3,3.45],"labels":false,"tickSize":-4,"title":null}},
               "y":{"field":"y","type":"quantitative","scale":{"domain":[0,1.747],"nice":false,"zero":false},"axis":{"values":[0.4,0.8,1.2,1.6],"format":".1f","labelAngle":-45,"labelAlign":"center","labelBaseline":"middle","labelPadding":19,"labelOffset":15,"labelFontSize":17,"tickSize":-4,"title":"γ","titleFontSize":17,"titleFontStyle":"italic","titlePadding":16}}},
   "layer":[
    {"data":{"name":"poly"},"transform":[{"filter":"datum.p=='21'&&datum.k=='cl'"}],"mark":{"type":"line","fill":"#1a1a1a","fillOpacity":0.9,"stroke":"#1a1a1a","strokeWidth":0.6,"clip":true},"encoding":{"order":{"field":"i","type":"quantitative"}}},
    {"data":{"name":"pts"},"transform":[{"filter":"datum.p=='21'"}],"mark":{"type":"circle","size":6,"color":"#000","opacity":0.6,"clip":true}},
    {"data":{"name":"poly"},"transform":[{"filter":"datum.p=='21'&&datum.k=='c1'"}],"mark":{"type":"line","fill":"#ffffff","stroke":"#000","strokeWidth":1.2,"clip":true},"encoding":{"order":{"field":"i","type":"quantitative"}}},
    {"data":{"name":"poly"},"transform":[{"filter":"datum.p=='21'&&datum.k=='c2'"}],"mark":{"type":"line","fill":"#d0d0d0","stroke":"#000","strokeWidth":1.2,"clip":true},"encoding":{"order":{"field":"i","type":"quantitative"}}},
    {"data":{"name":"poly"},"transform":[{"filter":"datum.p=='21'&&datum.k=='c3'"}],"mark":{"type":"line","fill":"#888888","stroke":"#000","strokeWidth":1.0,"clip":true},"encoding":{"order":{"field":"i","type":"quantitative"}}},
    {"data":{"name":"peak"},"transform":[{"filter":"datum.p=='21'"}],"mark":{"type":"square","size":30,"color":"#000","opacity":1}}]},
  {"width":163,"height":163,"layer":[
    {"data":{"name":"hist"},"transform":[{"filter":"datum.p==2"}],"mark":{"type":"line","interpolate":"step-after","color":"#000","strokeWidth":1.2},
     "encoding":{"x":{"field":"x","type":"quantitative","scale":{"domain":[0,1.747],"nice":false,"zero":false},"axis":{"values":[0.4,0.8,1.2,1.6],"labels":false,"tickSize":-4,"title":null}},
                 "y":{"field":"c","type":"quantitative","scale":{"domain":[0,484],"nice":false},"axis":null}}},
    {"data":{"name":"q"},"transform":[{"filter":"datum.p==2"}],"mark":{"type":"rule","color":"#000","strokeWidth":1.5,"strokeDash":[5,2.5]},"encoding":{"x":{"field":"x","type":"quantitative"}}}]},
  {"width":163,"height":163,"data":{"values":[{"a":1}]},"mark":{"type":"point","opacity":0},"view":{"stroke":null}},
  {"width":163,"height":163,"data":{"values":[{"a":1}]},"mark":{"type":"point","opacity":0},"view":{"stroke":null}},

  {"width":163,"height":163,
   "encoding":{"x":{"field":"x","type":"quantitative","scale":{"domain":[2.863,3.4725],"nice":false,"zero":false},"axis":{"values":[3.0,3.15,3.3,3.45],"labels":false,"tickSize":-4,"title":null}},
               "y":{"field":"y","type":"quantitative","scale":{"domain":[-3.99,-0.96],"nice":false,"zero":false},"axis":{"values":[-3.2,-2.4,-1.6],"format":".1f","labelAngle":-45,"labelAlign":"center","labelBaseline":"middle","labelPadding":19,"labelOffset":15,"labelFontSize":17,"tickSize":-4,"title":"log₁₀(δcav)","titleFontSize":17,"titleFontStyle":"italic","titlePadding":16}}},
   "layer":[
    {"data":{"name":"poly"},"transform":[{"filter":"datum.p=='31'&&datum.k=='sp'"}],"mark":{"type":"line","fill":"#3c3c3c","fillOpacity":0.6,"stroke":null,"clip":true},"encoding":{"order":{"field":"i","type":"quantitative"}}},
    {"data":{"name":"poly"},"transform":[{"filter":"datum.p=='31'&&datum.k=='cl'"}],"mark":{"type":"line","fill":"#1a1a1a","fillOpacity":0.85,"stroke":null,"clip":true},"encoding":{"order":{"field":"i","type":"quantitative"}}},
    {"data":{"name":"pts"},"transform":[{"filter":"datum.p=='31'"}],"mark":{"type":"circle","size":8,"color":"#000","opacity":0.7,"clip":true}},
    {"data":{"name":"poly"},"transform":[{"filter":"datum.p=='31'&&datum.k=='c1'"}],"mark":{"type":"line","fill":"#ffffff","stroke":"#000","strokeWidth":1.2,"clip":true},"encoding":{"order":{"field":"i","type":"quantitative"}}},
    {"data":{"name":"poly"},"transform":[{"filter":"datum.p=='31'&&datum.k=='c2'"}],"mark":{"type":"line","fill":"#d0d0d0","stroke":"#000","strokeWidth":1.2,"clip":true},"encoding":{"order":{"field":"i","type":"quantitative"}}},
    {"data":{"name":"poly"},"transform":[{"filter":"datum.p=='31'&&datum.k=='c3'"}],"mark":{"type":"line","fill":"#888888","stroke":"#000","strokeWidth":1.0,"clip":true},"encoding":{"order":{"field":"i","type":"quantitative"}}},
    {"data":{"name":"peak"},"transform":[{"filter":"datum.p=='31'"}],"mark":{"type":"square","size":30,"color":"#000","opacity":1}}]},
  {"width":163,"height":163,
   "encoding":{"x":{"field":"x","type":"quantitative","scale":{"domain":[0,1.747],"nice":false,"zero":false},"axis":{"values":[0.4,0.8,1.2,1.6],"labels":false,"tickSize":-4,"title":null}},
               "y":{"field":"y","type":"quantitative","scale":{"domain":[-3.99,-0.96],"nice":false,"zero":false},"axis":{"values":[-3.2,-2.4,-1.6],"labels":false,"tickSize":-4,"title":null}}},
   "layer":[
    {"data":{"name":"poly"},"transform":[{"filter":"datum.p=='32'&&datum.k=='sp'"}],"mark":{"type":"line","fill":"#3c3c3c","fillOpacity":0.6,"stroke":null,"clip":true},"encoding":{"order":{"field":"i","type":"quantitative"}}},
    {"data":{"name":"poly"},"transform":[{"filter":"datum.p=='32'&&datum.k=='cl'"}],"mark":{"type":"line","fill":"#1a1a1a","fillOpacity":0.85,"stroke":null,"clip":true},"encoding":{"order":{"field":"i","type":"quantitative"}}},
    {"data":{"name":"pts"},"transform":[{"filter":"datum.p=='32'"}],"mark":{"type":"circle","size":8,"color":"#000","opacity":0.7,"clip":true}},
    {"data":{"name":"poly"},"transform":[{"filter":"datum.p=='32'&&datum.k=='c1'"}],"mark":{"type":"line","fill":"#ffffff","stroke":"#000","strokeWidth":1.2,"clip":true},"encoding":{"order":{"field":"i","type":"quantitative"}}},
    {"data":{"name":"poly"},"transform":[{"filter":"datum.p=='32'&&datum.k=='c2'"}],"mark":{"type":"line","fill":"#d0d0d0","stroke":"#000","strokeWidth":1.2,"clip":true},"encoding":{"order":{"field":"i","type":"quantitative"}}},
    {"data":{"name":"poly"},"transform":[{"filter":"datum.p=='32'&&datum.k=='c3'"}],"mark":{"type":"line","fill":"#888888","stroke":"#000","strokeWidth":1.0,"clip":true},"encoding":{"order":{"field":"i","type":"quantitative"}}},
    {"data":{"name":"peak"},"transform":[{"filter":"datum.p=='32'"}],"mark":{"type":"square","size":30,"color":"#000","opacity":1}}]},
  {"width":163,"height":163,"layer":[
    {"data":{"name":"hist"},"transform":[{"filter":"datum.p==3"}],"mark":{"type":"line","interpolate":"step-after","color":"#000","strokeWidth":1.2},
     "encoding":{"x":{"field":"x","type":"quantitative","scale":{"domain":[-3.99,-0.96],"nice":false,"zero":false},"axis":{"values":[-3.2,-2.4,-1.6],"labels":false,"tickSize":-4,"title":null}},
                 "y":{"field":"c","type":"quantitative","scale":{"domain":[0,489.5],"nice":false},"axis":null}}},
    {"data":{"name":"q"},"transform":[{"filter":"datum.p==3"}],"mark":{"type":"rule","color":"#000","strokeWidth":1.5,"strokeDash":[5,2.5]},"encoding":{"x":{"field":"x","type":"quantitative"}}}]},
  {"width":163,"height":163,"data":{"values":[{"a":1}]},"mark":{"type":"point","opacity":0},"view":{"stroke":null}},

  {"width":163,"height":163,
   "encoding":{"x":{"field":"x","type":"quantitative","scale":{"domain":[2.863,3.4725],"nice":false,"zero":false},"axis":{"values":[3.0,3.15,3.3,3.45],"format":".2f","labelAngle":-45,"labelAlign":"center","labelBaseline":"middle","labelPadding":34,"labelFontSize":17,"tickSize":-4,"title":"log₁₀(Σg,cav)","titleFontSize":17,"titleFontStyle":"italic","titlePadding":6}},
               "y":{"field":"y","type":"quantitative","scale":{"domain":[2.4,4.09],"nice":false,"zero":false},"axis":{"values":[2.4,2.8,3.2,3.6,4.0],"format":".1f","labelAngle":-45,"labelAlign":"center","labelBaseline":"middle","labelPadding":19,"labelOffset":15,"labelFontSize":17,"tickSize":-4,"title":"rcav,g","titleFontSize":17,"titleFontStyle":"italic","titlePadding":16}}},
   "layer":[
    {"data":{"name":"poly"},"transform":[{"filter":"datum.p=='41'&&datum.k=='cl'"}],"mark":{"type":"line","fill":"#1a1a1a","fillOpacity":0.9,"stroke":"#333","strokeWidth":1,"clip":true},"encoding":{"order":{"field":"i","type":"quantitative"}}},
    {"data":{"name":"pts"},"transform":[{"filter":"datum.p=='41'"}],"mark":{"type":"circle","size":6,"color":"#000","opacity":0.6,"clip":true}},
    {"data":{"name":"poly"},"transform":[{"filter":"datum.p=='41'&&datum.k=='c1'"}],"mark":{"type":"line","fill":"#f4f4f4","stroke":"#000","strokeWidth":1.2,"clip":true},"encoding":{"order":{"field":"i","type":"quantitative"}}},
    {"data":{"name":"poly"},"transform":[{"filter":"datum.p=='41'&&datum.k=='c2'"}],"mark":{"type":"line","fill":"#c8c8c8","stroke":"#000","strokeWidth":1.2,"clip":true},"encoding":{"order":{"field":"i","type":"quantitative"}}},
    {"data":{"name":"poly"},"transform":[{"filter":"datum.p=='41'&&datum.k=='c3'"}],"mark":{"type":"line","fill":"#8a8a8a","stroke":"#000","strokeWidth":1.0,"clip":true},"encoding":{"order":{"field":"i","type":"quantitative"}}},
    {"data":{"name":"peak"},"transform":[{"filter":"datum.p=='41'"}],"mark":{"type":"square","size":30,"color":"#000","opacity":1}}]},
  {"width":163,"height":163,
   "encoding":{"x":{"field":"x","type":"quantitative","scale":{"domain":[0,1.747],"nice":false,"zero":false},"axis":{"values":[0.4,0.8,1.2,1.6],"format":".1f","labelAngle":-45,"labelAlign":"center","labelBaseline":"middle","labelPadding":34,"labelFontSize":17,"tickSize":-4,"title":"γ","titleFontSize":17,"titleFontStyle":"italic","titlePadding":6}},
               "y":{"field":"y","type":"quantitative","scale":{"domain":[2.4,4.09],"nice":false,"zero":false},"axis":{"values":[2.4,2.8,3.2,3.6,4.0],"labels":false,"tickSize":-4,"title":null}}},
   "layer":[
    {"data":{"name":"poly"},"transform":[{"filter":"datum.p=='42'&&datum.k=='cl'"}],"mark":{"type":"line","fill":"#1a1a1a","fillOpacity":0.9,"stroke":"#333","strokeWidth":1,"clip":true},"encoding":{"order":{"field":"i","type":"quantitative"}}},
    {"data":{"name":"pts"},"transform":[{"filter":"datum.p=='42'"}],"mark":{"type":"circle","size":6,"color":"#000","opacity":0.6,"clip":true}},
    {"data":{"name":"poly"},"transform":[{"filter":"datum.p=='42'&&datum.k=='c1'"}],"mark":{"type":"line","fill":"#f4f4f4","stroke":"#000","strokeWidth":1.2,"clip":true},"encoding":{"order":{"field":"i","type":"quantitative"}}},
    {"data":{"name":"poly"},"transform":[{"filter":"datum.p=='42'&&datum.k=='c2'"}],"mark":{"type":"line","fill":"#c8c8c8","stroke":"#000","strokeWidth":1.2,"clip":true},"encoding":{"order":{"field":"i","type":"quantitative"}}},
    {"data":{"name":"poly"},"transform":[{"filter":"datum.p=='42'&&datum.k=='c3'"}],"mark":{"type":"line","fill":"#8a8a8a","stroke":"#000","strokeWidth":1.0,"clip":true},"encoding":{"order":{"field":"i","type":"quantitative"}}},
    {"data":{"name":"peak"},"transform":[{"filter":"datum.p=='42'"}],"mark":{"type":"square","size":30,"color":"#000","opacity":1}}]},
  {"width":163,"height":163,
   "encoding":{"x":{"field":"x","type":"quantitative","scale":{"domain":[-3.99,-0.96],"nice":false,"zero":false},"axis":{"values":[-3.2,-2.4,-1.6],"format":".1f","labelAngle":-45,"labelAlign":"center","labelBaseline":"middle","labelPadding":34,"labelFontSize":17,"tickSize":-4,"title":"log₁₀(δcav)","titleFontSize":17,"titleFontStyle":"italic","titlePadding":6}},
               "y":{"field":"y","type":"quantitative","scale":{"domain":[2.4,4.09],"nice":false,"zero":false},"axis":{"values":[2.4,2.8,3.2,3.6,4.0],"labels":false,"tickSize":-4,"title":null}}},
   "layer":[
    {"data":{"name":"poly"},"transform":[{"filter":"datum.p=='43'&&datum.k=='sp'"}],"mark":{"type":"line","fill":"#3c3c3c","fillOpacity":0.7,"stroke":null,"clip":true},"encoding":{"order":{"field":"i","type":"quantitative"}}},
    {"data":{"name":"poly"},"transform":[{"filter":"datum.p=='43'&&datum.k=='cl'"}],"mark":{"type":"line","fill":"#1a1a1a","fillOpacity":0.9,"stroke":null,"clip":true},"encoding":{"order":{"field":"i","type":"quantitative"}}},
    {"data":{"name":"pts"},"transform":[{"filter":"datum.p=='43'"}],"mark":{"type":"circle","size":6,"color":"#000","opacity":0.6,"clip":true}},
    {"data":{"name":"poly"},"transform":[{"filter":"datum.p=='43'&&datum.k=='c1'"}],"mark":{"type":"line","fill":"#f4f4f4","stroke":"#000","strokeWidth":1.2,"clip":true},"encoding":{"order":{"field":"i","type":"quantitative"}}},
    {"data":{"name":"poly"},"transform":[{"filter":"datum.p=='43'&&datum.k=='c2'"}],"mark":{"type":"line","fill":"#d0d0d0","stroke":"#000","strokeWidth":1.2,"clip":true},"encoding":{"order":{"field":"i","type":"quantitative"}}},
    {"data":{"name":"poly"},"transform":[{"filter":"datum.p=='43'&&datum.k=='c3'"}],"mark":{"type":"line","fill":"#8a8a8a","stroke":"#000","strokeWidth":1.0,"clip":true},"encoding":{"order":{"field":"i","type":"quantitative"}}},
    {"data":{"name":"peak"},"transform":[{"filter":"datum.p=='43'"}],"mark":{"type":"square","size":30,"color":"#000","opacity":1}}]},
  {"width":163,"height":163,"layer":[
    {"data":{"name":"hist"},"transform":[{"filter":"datum.p==4"}],"mark":{"type":"line","interpolate":"step-after","color":"#000","strokeWidth":1.2},
     "encoding":{"x":{"field":"x","type":"quantitative","scale":{"domain":[2.4,4.09],"nice":false,"zero":false},"axis":{"values":[2.4,2.8,3.2,3.6,4.0],"format":".1f","labelAngle":-45,"labelAlign":"center","labelBaseline":"middle","labelPadding":34,"labelFontSize":17,"tickSize":-4,"title":"rcav,g","titleFontSize":17,"titleFontStyle":"italic","titlePadding":6}},
                 "y":{"field":"c","type":"quantitative","scale":{"domain":[0,486.2],"nice":false},"axis":null}}},
    {"data":{"name":"q"},"transform":[{"filter":"datum.p==4"}],"mark":{"type":"rule","color":"#000","strokeWidth":1.5,"strokeDash":[5,2.5]},"encoding":{"x":{"field":"x","type":"quantitative"}}}]}
 ]},
{"vconcat":[
  {"width":354,"height":1,"data":{"values":[{"a":1}]},"mark":{"type":"point","opacity":0},"view":{"stroke":null}},
  {"vconcat":[
  {"width":354,"height":275,
   "title":{"text":"(b) Midplane H₂ density","fontSize":20,"offset":0},
   "encoding":{"x":{"field":"x","type":"quantitative","scale":{"type":"log","domain":[0.505,29.6],"nice":false},"axis":{"values":[0.6,0.7,0.8,0.9,1,2,3,4,5,6,7,8,9,10,20],"labelExpr":"datum.value==1?'10⁰':(datum.value==10?'10¹':'')","tickSize":{"condition":{"test":"datum.value==1||datum.value==10","value":-8},"value":-4},"labelFontSize":20,"labelPadding":6,"title":"R [au]","titleFontSize":19,"titlePadding":6}},
               "y":{"field":"y","type":"quantitative","scale":{"type":"log","domain":[1e12,6e14],"nice":false},"axis":{"values":[1e12,2e12,3e12,4e12,5e12,6e12,7e12,8e12,9e12,1e13,2e13,3e13,4e13,5e13,6e13,7e13,8e13,9e13,1e14,2e14,3e14,4e14,5e14],"labelExpr":"datum.value==1e12?'10¹²':(datum.value==1e13?'10¹³':(datum.value==1e14?'10¹⁴':''))","tickSize":{"condition":{"test":"datum.value==1e12||datum.value==1e13||datum.value==1e14","value":-8},"value":-4},"labelFontSize":20,"labelPadding":8,"title":"nH₂ [cm⁻³]","titleFontSize":19,"titlePadding":17}}},
   "layer":[
    {"data":{"name":"rl"},"transform":[{"filter":"datum.g=='b'&&datum.s!='m'&&datum.s!='d'"}],"mark":{"type":"line","color":"#90ee90","opacity":0.22,"strokeWidth":3,"clip":true},"encoding":{"detail":{"field":"s","type":"nominal"},"order":{"field":"i","type":"quantitative"}}},
    {"data":{"name":"rl"},"transform":[{"filter":"datum.g=='b'&&datum.s=='m'"}],"mark":{"type":"line","color":"#3cb371","strokeWidth":4.5,"clip":true},"encoding":{"order":{"field":"i","type":"quantitative"}}},
    {"data":{"name":"rl"},"transform":[{"filter":"datum.g=='b'&&datum.s=='d'"}],"mark":{"type":"line","color":"#3cb371","strokeWidth":4.5,"strokeDash":[4.5,7.5],"clip":true},"encoding":{"order":{"field":"i","type":"quantitative"}}}]},
  {"width":354,"height":275,
   "title":{"text":"(c) Gas surface density","fontSize":20,"offset":0},
   "encoding":{"x":{"field":"x","type":"quantitative","scale":{"type":"log","domain":[0.505,29.6],"nice":false},"axis":{"values":[0.6,0.7,0.8,0.9,1,2,3,4,5,6,7,8,9,10,20],"labelExpr":"datum.value==1?'10⁰':(datum.value==10?'10¹':'')","tickSize":{"condition":{"test":"datum.value==1||datum.value==10","value":-8},"value":-4},"labelFontSize":20,"labelPadding":6,"title":"R [au]","titleFontSize":19,"titlePadding":6}},
               "y":{"field":"y","type":"quantitative","scale":{"type":"log","domain":[5,5750],"nice":false},"axis":{"values":[6,7,8,9,10,20,30,40,50,60,70,80,90,100,200,300,400,500,600,700,800,900,1000,2000,3000,4000,5000],"labelExpr":"datum.value==10?'10¹':(datum.value==100?'10²':(datum.value==1000?'10³':''))","tickSize":{"condition":{"test":"datum.value==10||datum.value==100||datum.value==1000","value":-8},"value":-4},"labelFontSize":20,"labelPadding":8,"title":"Σg [g cm⁻²]","titleFontSize":19,"titlePadding":17}}},
   "layer":[
    {"data":{"name":"rl"},"transform":[{"filter":"datum.g=='c'&&datum.s!='m'&&datum.s!='d'"}],"mark":{"type":"line","color":"#90ee90","opacity":0.22,"strokeWidth":3,"clip":true},"encoding":{"detail":{"field":"s","type":"nominal"},"order":{"field":"i","type":"quantitative"}}},
    {"data":{"name":"rl"},"transform":[{"filter":"datum.g=='c'&&datum.s=='m'"}],"mark":{"type":"line","color":"#3cb371","strokeWidth":4.5,"clip":true},"encoding":{"order":{"field":"i","type":"quantitative"}}},
    {"data":{"name":"rl"},"transform":[{"filter":"datum.g=='c'&&datum.s=='d'"}],"mark":{"type":"line","color":"#3cb371","strokeWidth":4.5,"strokeDash":[4.5,7.5],"clip":true},"encoding":{"order":{"field":"i","type":"quantitative"}}}]}
  ],"spacing":139,"bounds":"flush"}
 ],"spacing":7,"bounds":"flush"}
]
}
